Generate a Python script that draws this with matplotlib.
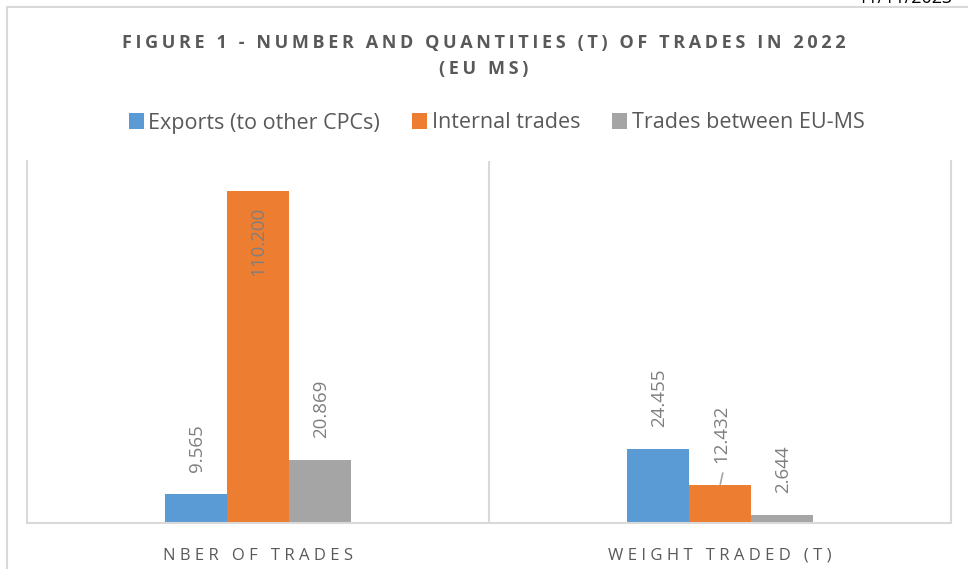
import numpy as np
import matplotlib
matplotlib.use("Agg")
import matplotlib.pyplot as plt
from matplotlib.patches import Rectangle, Patch

categories = ["NBER OF TRADES", "WEIGHT TRADED (T)"]
series_names = ["Exports (to other CPCs)", "Internal trades", "Trades between EU-MS"]
exports = [9565, 24455]
internal = [110200, 12432]
between = [20869, 2644]
colors = ["#5b9bd5", "#ed7d31", "#a5a5a5"]

title = "FIGURE 1 - NUMBER AND QUANTITIES (T) OF TRADES IN 2022\n(EU MS)"

FONT = ["Open Sans", "DejaVu Sans"]
GRID = "#d9d9d9"
TXT = "#595959"


def spaced(s, sep="\u2009"):
    # fake letter spacing (Excel style caps)
    return "\n".join(sep.join(line) for line in s.split("\n"))


def fmt(v):
    return f"{v:,}".replace(",", ".")


plt.rcParams["font.family"] = FONT

W, H = 968, 569
fig = plt.figure(figsize=(W / 100, H / 100), dpi=100)

# outer chart border (cropped on right / bottom)
fig.patches.append(Rectangle((7 / W, -0.1), 1.2, 1.1 - 7 / H, transform=fig.transFigure,
                             fill=False, edgecolor=GRID, linewidth=1.5))

ax = fig.add_axes([27 / W, (H - 523) / H, (951 - 27) / W, (523 - 161) / H])

x = np.arange(len(categories))
w = 62 / 462
all_vals = [exports, internal, between]
for i, (vals, name, c) in enumerate(zip(all_vals, series_names, colors)):
    bars = ax.bar(x + (i - 1) * w, vals, width=w, color=c, label=name, zorder=2)
    for j, (b, v) in enumerate(zip(bars, vals)):
        cx = b.get_x() + b.get_width() / 2
        if v > 100000:
            ax.annotate(fmt(v), (cx, v), xytext=(0, -12), textcoords="offset points",
                        rotation=90, ha="center", va="top", fontsize=13.5, color="#7f7f7f")
        else:
            ax.annotate(fmt(v), (cx, v), xytext=(1, 16), textcoords="offset points",
                        rotation=90, ha="center", va="bottom", fontsize=13.5, color="#7f7f7f")
        if i == 1 and j == 1:
            # small leader line drawn by Excel
            ax.annotate("", (cx, v), xytext=(2, 9), textcoords="offset points",
                        arrowprops=dict(arrowstyle="-", color="#a5a5a5", lw=1.2,
                                        shrinkA=0, shrinkB=1))

ax.set_xlim(-0.5, 1.5)
ax.set_ylim(0, 120000)
ax.set_yticks([])
ax.set_xticks(x)
ax.set_xticklabels([spaced(c, "\u2009\u200a") for c in categories], fontsize=12, color=TXT)
ax.tick_params(axis="x", length=0, pad=18)
ax.axvline(0.5, color=GRID, lw=1.5, zorder=1)
for side in ["left", "right", "bottom"]:
    ax.spines[side].set_color(GRID)
    ax.spines[side].set_linewidth(1.5)
ax.spines["top"].set_visible(False)

fig.text(0.5, 1 - 43 / H, spaced(title.split("\n")[0]), ha="center", va="center",
         fontsize=13, fontweight="bold", color=TXT)
fig.text(0.5, 1 - 69 / H, spaced(title.split("\n")[1]), ha="center", va="center",
         fontsize=13, fontweight="bold", color=TXT)

handles = [Patch(facecolor=c) for c in colors]
fig.legend(handles, series_names, loc="center", bbox_to_anchor=(0.513, 1 - 123 / H),
           ncol=3, frameon=False, fontsize=15.5, labelcolor=TXT, handlelength=0.7,
           handleheight=0.7, handletextpad=0.2, columnspacing=1.5)

# cut-off date from the page header
fig.text(0.886, 1 - 3 / H, "11/11/2023", ha="left", va="baseline", fontsize=13,
         color="#000000")

fig.savefig("out.png", dpi=100)
